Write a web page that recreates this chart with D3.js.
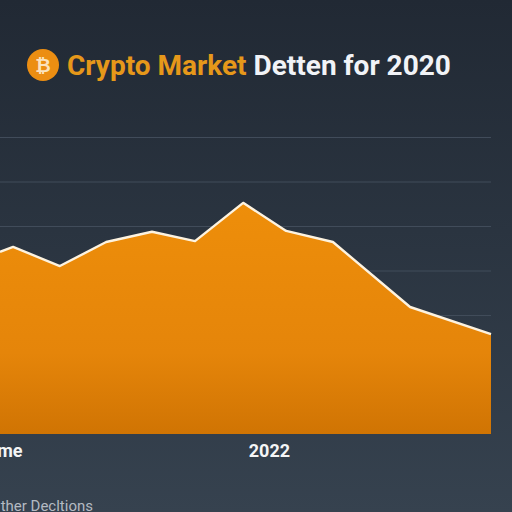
<!DOCTYPE html>
<html>
<head>
<meta charset="utf-8">
<style>
html,body{margin:0;padding:0;background:#2b3541;}
svg{display:block;}
text{font-family:Roboto,sans-serif;}
</style>
<script src="https://cdn.jsdelivr.net/npm/d3@7/dist/d3.min.js"></script>
</head>
<body>
<script>
// Market index readings along the time axis
const periods = [0, 0.28, 1.28, 2.27, 3.25, 4.17, 5.2, 6.12, 7.12, 8.77, 10.5];
const values = [54.2, 55.3, 51.0, 56.4, 58.7, 56.6, 65.2, 58.9, 56.4, 41.8, 35.7];
const gridValues = [40, 50, 60, 70, 80];
const axisLabels = ["me", "2022"];
const axisPositions = [0.47, 5.75];
const titleParts = ["Crypto Market", " Detten for 2020"];
const footerText = "ther Decltions";

const W = 512, H = 512;
const svg = d3.select("body").append("svg").attr("width", W).attr("height", H);
const defs = svg.append("defs");

const bg = defs.append("linearGradient").attr("id", "bg").attr("x1", 0).attr("x2", 0).attr("y1", 0).attr("y2", 1);
bg.append("stop").attr("offset", "0%").attr("stop-color", "#212934");
bg.append("stop").attr("offset", "45%").attr("stop-color", "#2a3440");
bg.append("stop").attr("offset", "100%").attr("stop-color", "#36424f");

const fill = defs.append("linearGradient").attr("id", "fill").attr("x1", 0).attr("x2", 0).attr("y1", 0).attr("y2", 1);
fill.append("stop").attr("offset", "0%").attr("stop-color", "#ee8e0a");
fill.append("stop").attr("offset", "65%").attr("stop-color", "#e5850a");
fill.append("stop").attr("offset", "100%").attr("stop-color", "#d07403");

svg.append("rect").attr("width", W).attr("height", H).attr("fill", "url(#bg)");

const x = d3.scaleLinear().domain([0, 10.5]).range([0, 491]);
const y = d3.scaleLinear().domain([13.26, 80]).range([434, 137]);
const points = periods.map((p, i) => [p, values[i]]);

// Horizontal grid drawn from the value axis
const grid = svg.append("g")
  .call(d3.axisLeft(y).tickValues(gridValues).tickSize(-491).tickFormat(""));
grid.select(".domain").remove();
grid.selectAll("line").attr("stroke", "#414c5a").attr("stroke-width", 1);

const area = d3.area().x(d => x(d[0])).y0(y(13.26)).y1(d => y(d[1]));
const line = d3.line().x(d => x(d[0])).y(d => y(d[1]));

svg.append("path").datum(points).attr("d", area).attr("fill", "url(#fill)");
svg.append("path").datum(points).attr("d", line)
  .attr("fill", "none").attr("stroke", "#fdf3e0").attr("stroke-width", 2.4).attr("stroke-linejoin", "round");

// Time axis labels
const xAxis = svg.append("g").attr("transform", "translate(0,434)")
  .call(d3.axisBottom(x).tickValues(axisPositions).tickSize(0).tickPadding(10).tickFormat((d, i) => axisLabels[i]));
xAxis.select(".domain").remove();
xAxis.selectAll("text")
  .attr("fill", "#f4f5f6").attr("font-size", 18).attr("font-weight", 700)
  .style("font-family", "Roboto, sans-serif")
  .attr("text-anchor", (d, i) => i === 0 ? "end" : "middle");

// Title with coin badge
svg.append("circle").attr("cx", 43).attr("cy", 65).attr("r", 16).attr("fill", "#ec8e12");
svg.append("text").attr("x", 43).attr("y", 72).attr("text-anchor", "middle")
  .attr("font-size", 19).attr("font-weight", 700).attr("fill", "#fbe3bd").text("\u20bf");

const title = svg.append("text").attr("x", 67).attr("y", 75).attr("font-size", 28).attr("font-weight", 700);
title.append("tspan").attr("fill", "#e6981a").text(titleParts[0]);
title.append("tspan").attr("fill", "#f1f3f7").attr("xml:space", "preserve").text(titleParts[1]);

svg.append("text").attr("x", 93).attr("y", 511).attr("text-anchor", "end")
  .attr("font-size", 15).attr("fill", "#b4bac2").text(footerText);
</script>
</body>
</html>
